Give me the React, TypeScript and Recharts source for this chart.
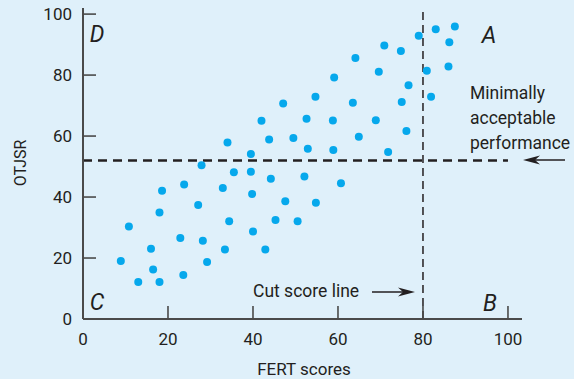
import { ScatterChart, Scatter, XAxis, YAxis, ReferenceLine } from "recharts";

// FERT score (x) and OTJSR (y) for each applicant
const fertScores = [
  8.9, 10.8, 13.0, 16.0, 16.5, 18.0, 18.0, 18.6, 22.9, 23.6, 23.8, 27.1, 27.9, 28.2, 29.2,
  32.9, 33.4, 34.0, 34.4, 35.5, 39.5, 39.5, 39.8, 40.0, 42.0, 42.9, 43.8, 44.2, 45.3, 47.1,
  47.6, 49.5, 50.5, 52.1, 52.6, 52.9, 54.7, 54.8, 58.8, 58.9, 59.1, 60.7, 63.5, 64.1, 64.9,
  68.9, 69.6, 70.9, 71.8, 74.8, 75.0, 76.1, 76.6, 79.0, 80.9, 81.9, 83.0, 86.0, 86.2, 87.5,
];
const otjsrScores = [
  19.0, 30.3, 12.1, 23.0, 16.2, 12.1, 34.9, 42.1, 26.6, 14.4, 44.1, 37.4, 50.4, 25.7, 18.7,
  43.0, 22.8, 57.9, 32.1, 48.1, 54.1, 48.3, 41.0, 28.7, 65.0, 22.8, 58.9, 46.0, 32.5, 70.7,
  38.6, 59.4, 32.1, 46.7, 65.7, 55.8, 72.9, 38.1, 65.1, 55.4, 79.2, 44.5, 70.9, 85.6, 59.8,
  65.2, 81.1, 89.7, 54.8, 87.9, 71.2, 61.7, 76.7, 92.9, 81.4, 72.9, 95.0, 82.8, 90.8, 95.9,
];
const xTicks = [0, 20, 40, 60, 80, 100];
const yTicks = [0, 20, 40, 60, 80, 100];
const cutScore = 80;
const minPerformance = 52;

const points = fertScores.map((x, i) => ({ x, y: otjsrScores[i] }));

const BG = "#dff0fa";
const DOT = "#06a8ec";
const AXIS = "#4a4a4a";
const INK = "#231f20";
const FONT = "Roboto, 'Open Sans', sans-serif";

function XTick({ x, y, payload }: any) {
  return (
    <g>
      {payload.value !== 0 && (
        <line x1={x} x2={x} y1={y} y2={y - 13} stroke={AXIS} strokeWidth={1.6} />
      )}
      <text x={x} y={y + 26} textAnchor="middle" fontSize={17} fontFamily={FONT} fill={INK}>
        {payload.value}
      </text>
    </g>
  );
}

function YTick({ x, y, payload }: any) {
  return (
    <g>
      {payload.value !== 0 && (
        <line x1={x} x2={x + 13} y1={y} y2={y} stroke={AXIS} strokeWidth={1.6} />
      )}
      <text x={x - 11} y={y + 6} textAnchor="end" fontSize={17} fontFamily={FONT} fill={INK}>
        {payload.value}
      </text>
    </g>
  );
}

const corner = {
  fontSize: 23,
  fontStyle: "italic" as const,
  fontFamily: FONT,
  fill: INK,
};

export default function App() {
  return (
    <div
      style={{
        position: "absolute",
        left: 0,
        top: 0,
        width: 574,
        height: 379,
        background: BG,
      }}
    >
      <ScatterChart
        width={574}
        height={379}
        margin={{ top: 8, right: 52, bottom: 30, left: 43 }}
      >
        <XAxis
          type="number"
          dataKey="x"
          domain={[0, 103.3]}
          ticks={xTicks}
          allowDataOverflow
          height={30}
          tickSize={0}
          tickMargin={0}
          tickLine={false}
          axisLine={{ stroke: AXIS, strokeWidth: 2 }}
          tick={<XTick />}
        />
        <YAxis
          type="number"
          dataKey="y"
          domain={[0, 102]}
          ticks={yTicks}
          allowDataOverflow
          width={40}
          tickSize={0}
          tickMargin={0}
          tickLine={false}
          axisLine={{ stroke: AXIS, strokeWidth: 2 }}
          tick={<YTick />}
        />
        <ReferenceLine
          x={cutScore}
          stroke={INK}
          strokeWidth={1.5}
          strokeDasharray="8 5"
        />
        <ReferenceLine
          segment={[
            { x: 0, y: minPerformance },
            { x: 100, y: minPerformance },
          ]}
          stroke={INK}
          strokeWidth={2.4}
          strokeDasharray="9 6"
        />
        <Scatter
          data={points}
          isAnimationActive={false}
          shape={(p: any) => <circle cx={p.cx} cy={p.cy} r={4} fill={DOT} />}
        />
      </ScatterChart>

      <svg
        width={574}
        height={379}
        style={{ position: "absolute", left: 0, top: 0, pointerEvents: "none" }}
      >
        <text x={97} y={42} textAnchor="middle" {...corner}>D</text>
        <text x={489} y={43} textAnchor="middle" {...corner}>A</text>
        <text x={97} y={310} textAnchor="middle" {...corner}>C</text>
        <text x={490} y={311} textAnchor="middle" {...corner}>B</text>

        <text
          transform="translate(26,163) rotate(-90)"
          textAnchor="middle"
          fontSize={16}
          fontFamily={FONT}
          fill={INK}
        >
          OTJSR
        </text>
        <text x={304} y={375} textAnchor="middle" fontSize={17} fontFamily={FONT} fill={INK}>
          FERT scores
        </text>

        <g fontSize={17.5} fontFamily={FONT} fill={INK}>
          <text x={470} y={99}>Minimally</text>
          <text x={470} y={124}>acceptable</text>
          <text x={470} y={149}>performance</text>
          <text x={253} y={297}>Cut score line</text>
        </g>

        <line x1={565} x2={532} y1={160} y2={160} stroke={INK} strokeWidth={1.5} />
        <path d="M523,160 L540,155.5 L535,160 L540,164.5 Z" fill={INK} />

        <line x1={372} x2={406} y1={292} y2={292} stroke={INK} strokeWidth={1.5} />
        <path d="M415,292 L398,287.5 L403,292 L398,296.5 Z" fill={INK} />
      </svg>
    </div>
  );
}
